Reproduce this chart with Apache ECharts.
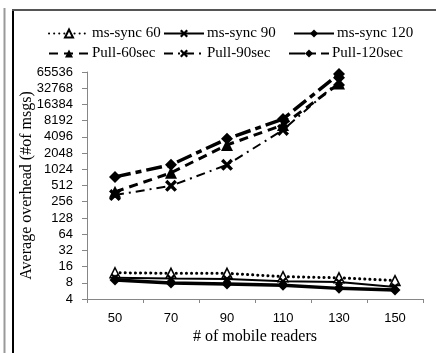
<!DOCTYPE html>
<html><head><meta charset="utf-8">
<script src="https://cdn.jsdelivr.net/npm/echarts@6/dist/echarts.min.js"></script>
<style>html,body{margin:0;padding:0;background:#fff}#c{width:436px;height:353px}</style>
</head><body><div id="c"></div>
<script>
const categories = ['50','70','90','110','130','150'];
const msSync60 = [12.3, 12, 12, 10.4, 9.9, 8.8];
const msSync90 = [9.9, 9.6, 9.4, 8.5, 8.3, 6.7];
const msSync120 = [9, 7.9, 7.6, 7.2, 6.3, 5.9];
const pull60 = [390, 880, 2900, 6800, 40000, null];
const pull90 = [340, 505, 1240, 5500, 44000, null];
const pull120 = [740, 1240, 3760, 8800, 60000, null];
const seriesNames = ['ms-sync 60','ms-sync 90','ms-sync 120','Pull-60sec','Pull-90sec','Pull-120sec'];

const XSYM = 'path://M2,0 L5,3 L8,0 L10,2 L7,5 L10,8 L8,10 L5,7 L2,10 L0,8 L3,5 L0,2 Z';
const serif = 'Liberation Serif';
const chart = echarts.init(document.getElementById('c'));
const legendPos = [[43,21],[158,21],[288,21],[43,41],[158,41],[283,41]];
const legends = seriesNames.map((n,i)=>({
  data:[n], left:legendPos[i][0], top:legendPos[i][1], itemWidth:40, itemHeight:10, itemGap:0,
  textStyle:{fontFamily:serif, fontSize:15, color:'#000', padding:[0,0,0,-2]}
}));
function mk(name, data, symbol, size, ls, fill){
  return {name, type:'line', data, symbol, symbolSize:size, showSymbol:true,
    lineStyle:Object.assign({color:'#000'}, ls),
    itemStyle:{color:fill||'#000', borderColor:'#000', borderWidth:fill?1.5:0},
    emphasis:{disabled:true}, animation:false};
}
chart.setOption({
  animation:false,
  graphic:[
    {type:'line', shape:{x1:4.5,y1:8,x2:4.5,y2:353}, style:{stroke:'#999',lineWidth:2}},
    {type:'line', shape:{x1:13,y1:10,x2:13,y2:353}, style:{stroke:'#000',lineWidth:2}},
    {type:'line', shape:{x1:12,y1:10,x2:436,y2:10}, style:{stroke:'#555',lineWidth:2}}
  ],
  legend: legends,
  grid:{left:87, right:13, top:72, bottom:54},
  xAxis:{type:'category', data:categories, boundaryGap:true,
    name:'# of mobile readers', nameLocation:'middle', nameGap:30, nameMoveOverlap:false,
    nameTextStyle:{fontFamily:serif, fontSize:16, color:'#000'},
    axisLine:{lineStyle:{color:'#868686'}},
    axisTick:{show:true, length:4, lineStyle:{color:'#868686'}, alignWithLabel:false},
    axisLabel:{fontFamily:'Liberation Sans', fontSize:13, color:'#000', margin:13}},
  yAxis:{type:'log', logBase:2, min:4, max:65536, interval:1,
    name:'Average overhead (#of msgs)', nameLocation:'middle', nameGap:52, nameMoveOverlap:false,
    nameTextStyle:{fontFamily:serif, fontSize:16, color:'#000'},
    axisLine:{show:true, lineStyle:{color:'#868686'}},
    axisTick:{show:true, length:5, lineStyle:{color:'#868686'}},
    splitLine:{show:false},
    axisLabel:{fontFamily:'Liberation Sans', fontSize:13, color:'#000', margin:14,
      formatter:v=>String(Math.round(v))}},
  series:[
    mk('ms-sync 60', msSync60, 'triangle', 10, {width:3, type:[0.1,5], cap:'round'}, '#fff'),
    mk('ms-sync 90', msSync90, XSYM, 8, {width:2}),
    mk('ms-sync 120', msSync120, 'diamond', 11, {width:3.5}),
    mk('Pull-60sec', pull60, 'triangle', 12, {width:3, type:[9,6]}),
    mk('Pull-90sec', pull90, XSYM, 12, {width:2, type:[9,5,2,5]}),
    mk('Pull-120sec', pull120, 'diamond', 12, {width:3.5, type:[16,5,6,5]})
  ]
});
</script></body></html>
